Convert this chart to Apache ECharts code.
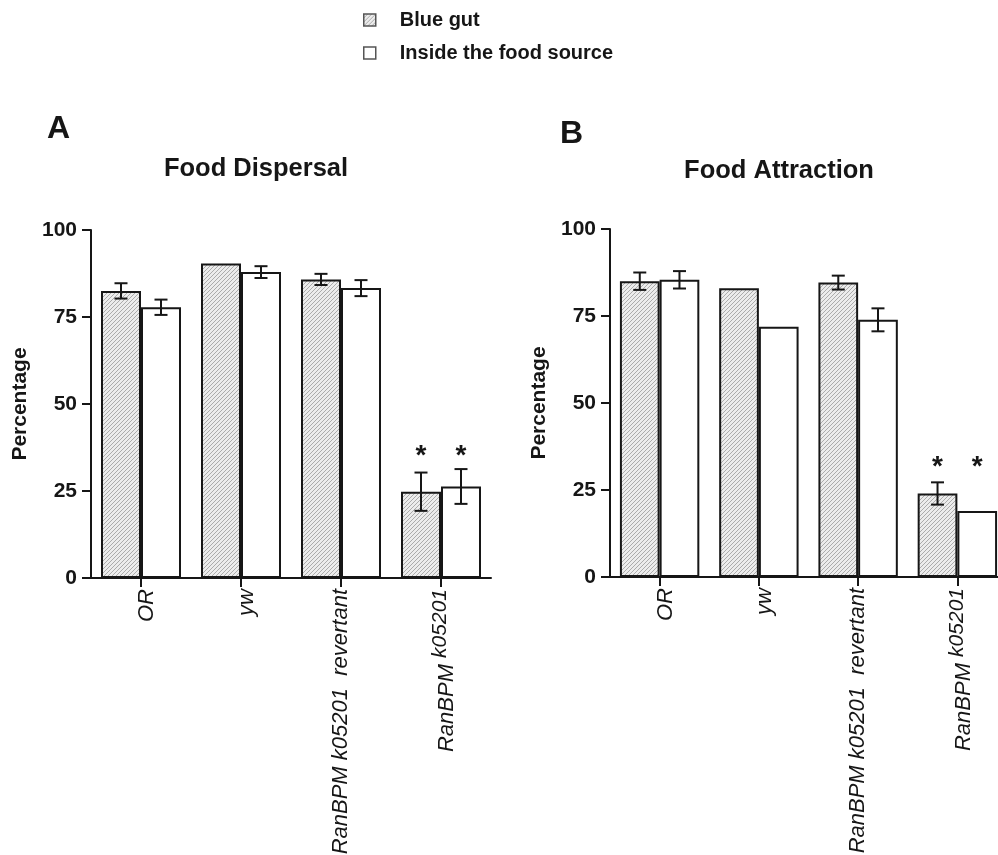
<!DOCTYPE html>
<html>
<head>
<meta charset="utf-8">
<script src="https://cdn.jsdelivr.net/npm/echarts@6/dist/echarts.min.js"></script>
<style>
html,body{margin:0;padding:0;background:#fff;}
#main{width:998px;height:855px;}
</style>
</head>
<body>
<div id="main"></div>
<script>
// ---- data ----
const categories = ['OR', 'yw', 'RanBPM k05201 revertant', 'RanBPM k05201'];
const seriesNames = ['Blue gut', 'Inside the food source'];
const yTicks = [0, 25, 50, 75, 100];

// Panel A: Food Dispersal
const dispersalBlue = [82.5, 90.4, 85.8, 24.8];
const dispersalBlueErr = [2.2, 0, 1.6, 5.5];
const dispersalInside = [77.8, 87.9, 83.3, 26.3];
const dispersalInsideErr = [2.2, 1.7, 2.3, 5.0];
const dispersalStar = [null, null, null, 36.5];

// Panel B: Food Attraction
const attractionBlue = [85.0, 83.0, 84.6, 24.0];
const attractionBlueErr = [2.5, 0, 2.0, 3.2];
const attractionInside = [85.4, 71.9, 73.9, 19.0];
const attractionInsideErr = [2.5, 0, 3.3, 0];
const attractionStar = [null, null, null, 33];

// ---- hatch pattern ----
function makeHatch() {
  const c = document.createElement('canvas');
  c.width = 4; c.height = 4;
  const ctx = c.getContext('2d');
  ctx.fillStyle = '#ececec';
  ctx.fillRect(0, 0, 4, 4);
  ctx.strokeStyle = '#ababab';
  ctx.lineWidth = 1;
  ctx.beginPath();
  ctx.moveTo(-1, 5); ctx.lineTo(5, -1);
  ctx.moveTo(-1, 1); ctx.lineTo(1, -1);
  ctx.moveTo(3, 5); ctx.lineTo(5, 3);
  ctx.stroke();
  return c;
}
const hatch = { image: makeHatch(), repeat: 'repeat' };

const INK = '#161616';
const FONT = 'Liberation Sans, Arial';

function labelFormatter(v) {
  if (v.indexOf('k05201') >= 0) {
    const parts = v.split('k05201');
    if (parts[1]) {
      // allele name inline, followed by descriptor
      return '{i|' + parts[0] + 'k05201' + parts[1].replace(' ', '  ') + '}';
    }
    return '{p| }{i|' + parts[0] + '}{s|k05201}';
  }
  return '{p| }{i|' + v + '}';
}

function xAxis(gridIndex) {
  return {
    type: 'category', gridIndex: gridIndex, data: categories,
    axisLine: { show: true, lineStyle: { color: INK, width: 2 } },
    axisTick: { show: true, alignWithLabel: true, length: 9, lineStyle: { color: INK, width: 2 } },
    axisLabel: {
      rotate: 90, margin: 11, interval: 0,
      formatter: labelFormatter,
      rich: {
        p: { fontSize: 1, lineHeight: 34, verticalAlign: 'top' },
        i: { fontFamily: FONT, fontStyle: 'italic', fontSize: 22, color: INK, verticalAlign: 'bottom' },
        s: { fontFamily: FONT, fontStyle: 'italic', fontSize: 21, color: INK, verticalAlign: 'bottom', padding: [0, 0, 7, 0] }
      }
    }
  };
}

function yAxis(gridIndex, nameGap) {
  return {
    type: 'value', gridIndex: gridIndex, min: 0, max: 100, interval: 25,
    name: 'Percentage', nameLocation: 'middle', nameGap: nameGap, nameRotate: 90,
    nameTextStyle: { fontFamily: FONT, fontWeight: 'bold', fontSize: 21, color: INK },
    axisLine: { show: true, lineStyle: { color: INK, width: 2 } },
    axisTick: { show: true, length: 9, lineStyle: { color: INK, width: 2 } },
    axisLabel: {
      margin: 14, fontFamily: FONT, fontWeight: 'bold', fontSize: 21, color: INK,
      customValues: yTicks
    },
    splitLine: { show: false }
  };
}

function barSeries(name, data, axisIdx, fill) {
  return {
    type: 'bar', name: name, data: data,
    xAxisIndex: axisIdx, yAxisIndex: axisIdx,
    barWidth: '40%', barGap: '0%',
    itemStyle: { color: fill, borderColor: INK, borderWidth: 2 },
    z: 2
  };
}

function errSeries(values, errs, stars, axisIdx, side) {
  const data = values.map((v, i) => [i, v, errs[i], stars[i] == null ? -1 : stars[i]]);
  return {
    type: 'custom', xAxisIndex: axisIdx, yAxisIndex: axisIdx, z: 5,
    silent: true,
    data: data,
    renderItem: function (params, api) {
      const idx = api.value(0), v = api.value(1), e = api.value(2), s = api.value(3);
      const band = api.size([1, 0])[0];
      const dx = side * band * 0.2;
      const children = [];
      const style = { stroke: INK, lineWidth: 2 };
      const half = 6.5;
      if (e > 0) {
        const top = api.coord([idx, v + e]);
        const bot = api.coord([idx, v - e]);
        const x = top[0] + dx;
        children.push({ type: 'line', shape: { x1: x, y1: top[1], x2: x, y2: bot[1] }, style: style });
        children.push({ type: 'line', shape: { x1: x - half, y1: top[1], x2: x + half, y2: top[1] }, style: style });
        children.push({ type: 'line', shape: { x1: x - half, y1: bot[1], x2: x + half, y2: bot[1] }, style: style });
      }
      if (s >= 0) {
        const p = api.coord([idx, s]);
        children.push({
          type: 'text',
          style: { text: '*', x: p[0] + dx, y: p[1] + 5, fill: INK, font: 'bold 28px "Liberation Sans", Arial', align: 'center', verticalAlign: 'middle' }
        });
      }
      return { type: 'group', children: children };
    }
  };
}

const chart = echarts.init(document.getElementById('main'), null, { renderer: 'canvas' });

const option = {
  backgroundColor: '#fff',
  animation: false,
  title: [
    { text: 'A', left: 42, top: 108, textStyle: { fontFamily: FONT, fontWeight: 'bold', fontSize: 32, color: INK } },
    { text: 'Food Dispersal', left: 251, top: 151, textAlign: 'center', textStyle: { fontFamily: FONT, fontWeight: 'bold', fontSize: 25.5, color: INK } },
    { text: 'B', left: 555, top: 113, textStyle: { fontFamily: FONT, fontWeight: 'bold', fontSize: 32, color: INK } },
    { text: 'Food Attraction', left: 774, top: 153, textAlign: 'center', textStyle: { fontFamily: FONT, fontWeight: 'bold', fontSize: 25.5, color: INK } }
  ],
  legend: {
    orient: 'vertical', left: 358, top: 5,
    itemWidth: 12, itemHeight: 12, itemGap: 13,
    icon: 'rect',
    data: seriesNames,
    itemStyle: { borderColor: '#555', borderWidth: 1.5 },
    textStyle: { fontFamily: FONT, fontWeight: 'bold', fontSize: 20, color: INK, padding: [0, 0, 0, 19] }
  },
  grid: [
    { left: 91, top: 230, width: 400, height: 348, containLabel: false, outerBoundsMode: 'none' },
    { left: 610, top: 229, width: 397, height: 348, containLabel: false, outerBoundsMode: 'none' }
  ],
  xAxis: [xAxis(0), xAxis(1)],
  yAxis: [yAxis(0, 60), yAxis(1, 60)],
  series: [
    barSeries(seriesNames[0], dispersalBlue, 0, hatch),
    barSeries(seriesNames[1], dispersalInside, 0, '#ffffff'),
    barSeries(seriesNames[0], attractionBlue, 1, hatch),
    barSeries(seriesNames[1], attractionInside, 1, '#ffffff'),
    errSeries(dispersalBlue, dispersalBlueErr, dispersalStar, 0, -1),
    errSeries(dispersalInside, dispersalInsideErr, dispersalStar, 0, 1),
    errSeries(attractionBlue, attractionBlueErr, attractionStar, 1, -1),
    errSeries(attractionInside, attractionInsideErr, attractionStar, 1, 1)
  ]
};
chart.setOption(option);
</script>
</body>
</html>
